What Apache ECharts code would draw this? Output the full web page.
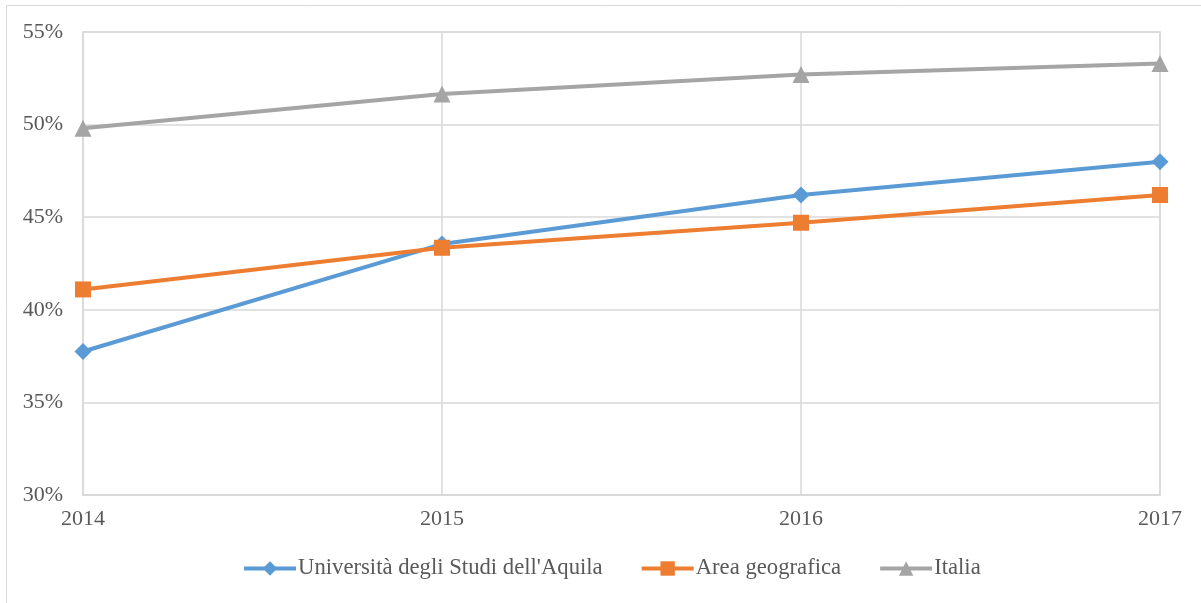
<!DOCTYPE html>
<html><head><meta charset="utf-8">
<script src="https://cdn.jsdelivr.net/npm/echarts@6/dist/echarts.min.js"></script>
<style>html,body{margin:0;padding:0;background:#fff}#c{width:1201px;height:603px}</style>
</head><body><div id="c"></div>
<script>
const years = ['2014','2015','2016','2017'];
const univ = [37.75, 43.55, 46.2, 48.0];
const area = [41.1, 43.35, 44.7, 46.2];
const italia = [49.8, 51.65, 52.7, 53.3];
const yTicks = [30, 35, 40, 45, 50, 55];

const font = 'Liberation Serif';
const chart = echarts.init(document.getElementById('c'));
chart.setOption({
  animation: false,
  graphic: [{type:'rect', shape:{x:6.5,y:5.5,width:1200,height:600}, style:{fill:'none', stroke:'#d9d9d9', lineWidth:1}}],
  grid: {left:83, right:41, top:32, bottom:108, show:true, borderColor:'#d9d9d9', borderWidth:1.5},
  legend: {
    bottom: 18, left: 237, itemWidth: 52, itemHeight: 18, itemGap: 37,
    lineStyle: {width: 4},
    textStyle: {fontFamily: font, fontSize: 22.7, color: '#595959', padding:[0,0,0,-3]},
    data: ["Università degli Studi dell'Aquila", 'Area geografica', 'Italia']
  },
  xAxis: {
    type:'category', data: years, boundaryGap:false,
    axisLine:{show:true, lineStyle:{color:'#d9d9d9', width:1.5}},
    axisTick:{show:false},
    splitLine:{show:true, lineStyle:{color:'#d9d9d9', width:1.5}},
    axisLabel:{fontFamily:font, fontSize:22, color:'#595959', margin:13}
  },
  yAxis: {
    type:'value', min:yTicks[0], max:yTicks[yTicks.length-1], interval:5,
    axisLine:{show:false}, axisTick:{show:false},
    splitLine:{lineStyle:{color:'#d9d9d9', width:1.5}},
    axisLabel:{fontFamily:font, fontSize:22, color:'#595959', margin:20, formatter:v=>v+'%'}
  },
  series: [
    {name:"Università degli Studi dell'Aquila", type:'line', data:univ, symbol:'diamond', symbolSize:17,
     lineStyle:{color:'#5b9bd5', width:4}, itemStyle:{color:'#5b9bd5'}, z:3},
    {name:'Area geografica', type:'line', data:area, symbol:'rect', symbolSize:16,
     lineStyle:{color:'#ed7d31', width:4}, itemStyle:{color:'#ed7d31'}, z:4},
    {name:'Italia', type:'line', data:italia, symbol:'triangle', symbolSize:17,
     lineStyle:{color:'#a5a5a5', width:4}, itemStyle:{color:'#a5a5a5'}, z:2}
  ]
});
</script></body></html>
